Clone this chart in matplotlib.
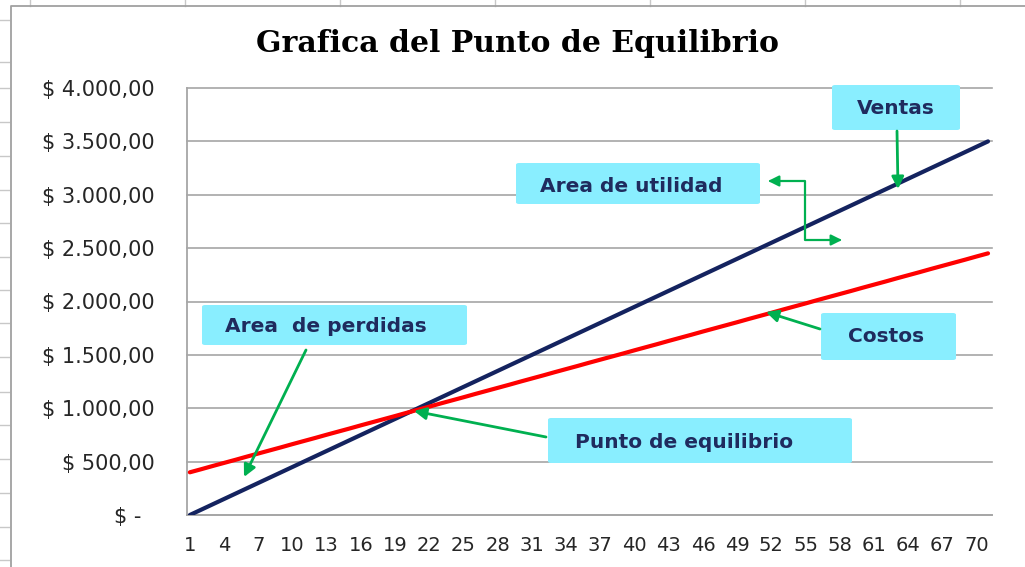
import matplotlib.pyplot as plt
from matplotlib.patches import FancyBboxPatch, FancyArrowPatch
from matplotlib.path import Path
from matplotlib.lines import Line2D

# =========================
# Data
# =========================
unidades = list(range(1, 72))

ventas = [0, 50, 100, 150, 200, 250, 300, 350, 400, 450,
          500, 550, 600, 650, 700, 750, 800, 850, 900, 950,
          1000, 1050, 1100, 1150, 1200, 1250, 1300, 1350, 1400, 1450,
          1500, 1550, 1600, 1650, 1700, 1750, 1800, 1850, 1900, 1950,
          2000, 2050, 2100, 2150, 2200, 2250, 2300, 2350, 2400, 2450,
          2500, 2550, 2600, 2650, 2700, 2750, 2800, 2850, 2900, 2950,
          3000, 3050, 3100, 3150, 3200, 3250, 3300, 3350, 3400, 3450,
          3500]

costos = [400, 429, 459, 488, 517, 547, 576, 605, 634, 664,
          693, 722, 752, 781, 810, 840, 869, 898, 927, 957,
          986, 1015, 1045, 1074, 1103, 1133, 1162, 1191, 1220, 1250,
          1279, 1308, 1338, 1367, 1396, 1426, 1455, 1484, 1513, 1543,
          1572, 1601, 1631, 1660, 1689, 1719, 1748, 1777, 1806, 1836,
          1865, 1894, 1924, 1953, 1982, 2012, 2041, 2070, 2099, 2129,
          2158, 2187, 2217, 2246, 2275, 2305, 2334, 2363, 2392, 2422,
          2451]

y_ticks = [0, 500, 1000, 1500, 2000, 2500, 3000, 3500, 4000]
y_labels = ["$ -  ", "$ 500,00", "$ 1.000,00", "$ 1.500,00", "$ 2.000,00",
            "$ 2.500,00", "$ 3.000,00", "$ 3.500,00", "$ 4.000,00"]
x_ticks = list(range(1, 71, 3))

# =========================
# Figure in pixel units
# =========================
W, H = 1025, 567


def fp(x, y):
    # pixel position -> figure fraction
    return (x / W, 1 - y / H)


fig = plt.figure(figsize=(W / 100, H / 100), dpi=100)

# spreadsheet cells behind the chart
for x in [30, 185, 340, 495, 650, 805, 960]:
    fig.add_artist(Line2D([x / W, x / W], [1, fp(0, 6)[1]], transform=fig.transFigure,
                          color="#C8C8C8", lw=1))
for y in [20, 62, 88, 122, 156, 190, 223, 257, 290, 323, 357, 392, 425, 459, 493, 527, 560]:
    fig.add_artist(Line2D([0, 9 / W], [fp(0, y)[1]] * 2, transform=fig.transFigure,
                          color="#C8C8C8", lw=1))
fig.add_artist(Line2D([11 / W, 11 / W, 1], [0, fp(0, 6)[1], fp(0, 6)[1]],
                      transform=fig.transFigure, color="#A0A0A0", lw=1.3))

# =========================
# Plot area
# =========================
ax = fig.add_axes([187 / W, 1 - 515 / H, (992 - 187) / W, (515 - 88) / H])

ax.plot(unidades, ventas, color="#14235F", lw=3.0, solid_capstyle="round", zorder=3)
ax.plot(unidades, costos, color="#FF0000", lw=3.0, solid_capstyle="round", zorder=3)

ax.set_xlim(0.75, 71.35)
ax.set_ylim(0, 4000)
ax.set_yticks(y_ticks)
ax.set_yticklabels(y_labels)
ax.set_xticks(x_ticks)
ax.set_xticklabels([str(v) for v in x_ticks])

ax.grid(True, axis="y", color="#A6A6A6", lw=1.2)
for gl in ax.get_ygridlines():
    gl.set_clip_on(False)
ax.set_axisbelow(True)
for s in ["top", "right"]:
    ax.spines[s].set_visible(False)
for s in ["left", "bottom"]:
    ax.spines[s].set_color("#A6A6A6")
    ax.spines[s].set_linewidth(1.3)

ax.tick_params(axis="y", length=0, pad=23, labelsize=15, labelcolor="#262626")
ax.tick_params(axis="x", length=0, pad=15, labelsize=14, labelcolor="#262626")

fig.text(*fp(518, 43), "Grafica del Punto de Equilibrio", ha="center", va="center",
         family="DejaVu Serif", weight="bold", fontsize=21.5, color="black")

# =========================
# Callout boxes
# =========================
box_col = "#89EEFF"
txt_col = "#1F2B5E"
green = "#00B050"


def callout(x0, y0, x1, y1, text, tx, ty, ha="center"):
    bx, by = fp(x0, y1)
    fig.add_artist(FancyBboxPatch((bx, by), (x1 - x0) / W, (y1 - y0) / H,
                                  boxstyle="round,pad=0,rounding_size=0.003",
                                  transform=fig.transFigure, facecolor=box_col,
                                  edgecolor="none", zorder=5))
    fig.text(*fp(tx, ty), text, ha=ha, va="center", fontsize=14.5, weight="bold",
             color=txt_col, zorder=6)


def arrow(x0, y0, x1, y1):
    fig.add_artist(FancyArrowPatch(fp(x0, y0), fp(x1, y1), transform=fig.transFigure,
                                   arrowstyle="-|>", mutation_scale=18, color=green,
                                   lw=2, shrinkA=0, shrinkB=0, zorder=7))


callout(832, 85, 960, 130, "Ventas", 896, 108)
callout(516, 163, 760, 204, "Area de utilidad", 631, 186)
callout(202, 305, 467, 345, "Area  de perdidas", 326, 326)
callout(821, 313, 956, 360, "Costos", 886, 337)
callout(548, 418, 852, 463, "Punto de equilibrio", 684, 442)

arrow(897, 131, 898, 189)
arrow(306, 350, 244, 477)
arrow(820, 329, 766, 312)
arrow(546, 437, 414, 411)

# elbow connector for "Area de utilidad"
verts = [fp(768, 181), fp(805, 181), fp(805, 240), fp(842, 240)]
path = Path(verts, [Path.MOVETO, Path.LINETO, Path.LINETO, Path.LINETO])
fig.add_artist(FancyArrowPatch(path=path, transform=fig.transFigure,
                               arrowstyle="<|-|>", mutation_scale=16, color=green,
                               lw=1.6, shrinkA=0, shrinkB=0, zorder=7))

fig.savefig("out.png", dpi=100)
